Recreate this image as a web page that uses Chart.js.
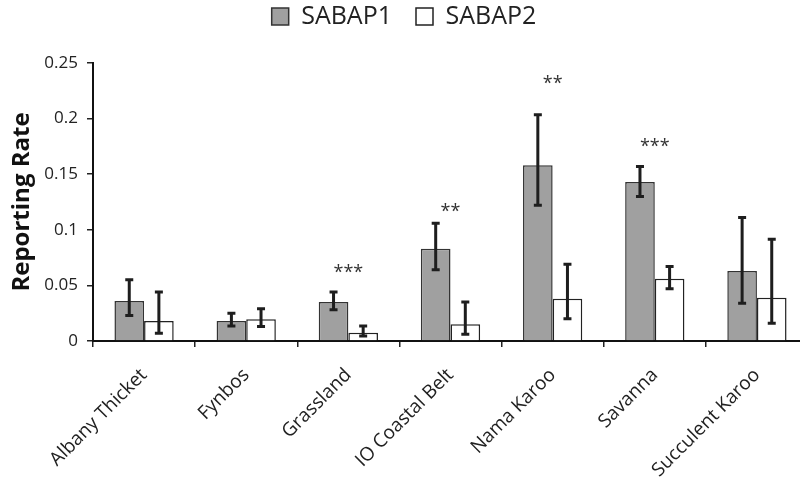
<!DOCTYPE html>
<html>
<head>
<meta charset="utf-8">
<script src="https://cdn.jsdelivr.net/npm/chart.js@4"></script>
<style>
  html, body { margin: 0; padding: 0; overflow: hidden; background: #fff; }
  #wrap { width: 808px; height: 482px; }
</style>
</head>
<body>
<div id="wrap"><canvas id="chart"></canvas></div>
<script>
const categories = ['Albany Thicket', 'Fynbos', 'Grassland', 'IO Coastal Belt', 'Nama Karoo', 'Savanna', 'Succulent Karoo'];

const sabap1 = [0.036, 0.018, 0.035, 0.083, 0.158, 0.143, 0.063];
const sabap1Lo = [0.023, 0.0135, 0.028, 0.064, 0.122, 0.130, 0.034];
const sabap1Hi = [0.055, 0.025, 0.044, 0.106, 0.2035, 0.157, 0.111];

const sabap2 = [0.018, 0.0195, 0.0075, 0.015, 0.038, 0.056, 0.039];
const sabap2Lo = [0.007, 0.013, 0.0045, 0.006, 0.020, 0.047, 0.016];
const sabap2Hi = [0.044, 0.029, 0.0135, 0.035, 0.069, 0.067, 0.0915];

// significance stars, and the level (in reporting rate units) they sit at
const sigLabels = ['', '', '***', '**', '**', '***', ''];
const sigLevel = [0, 0, 0.064, 0.119, 0.234, 0.177, 0];

const yTicks = [0, 0.05, 0.1, 0.15, 0.2, 0.25];

const FONT = "'Open Sans', sans-serif";

// legend: keep the wide item spacing but sit it near the top edge
const legendTweak = {
  id: 'legendTweak',
  beforeInit(chart) {
    const legend = chart.legend;
    const fit = legend.fit.bind(legend);
    legend.fit = function () {
      fit();
      this.height = 59;
    };
  },
  afterLayout(chart) {
    chart.legend.top = -20;
  }
};

// draw the error bars + stars on top of the bars
const errorBarPlugin = {
  id: 'errorBars',
  afterDatasetsDraw(chart) {
    const ctx = chart.ctx;
    const y = chart.scales.y;
    const ranges = [[sabap1Lo, sabap1Hi], [sabap2Lo, sabap2Hi]];
    ctx.save();
    ctx.strokeStyle = '#1e1e1e';
    ctx.lineWidth = 3;
    ranges.forEach((r, i) => {
      const meta = chart.getDatasetMeta(i);
      meta.data.forEach((bar, j) => {
        const top = y.getPixelForValue(r[1][j]);
        const bot = y.getPixelForValue(r[0][j]);
        ctx.beginPath();
        ctx.moveTo(bar.x, top);
        ctx.lineTo(bar.x, bot);
        ctx.moveTo(bar.x - 4, top);
        ctx.lineTo(bar.x + 4, top);
        ctx.moveTo(bar.x - 4, bot);
        ctx.lineTo(bar.x + 4, bot);
        ctx.stroke();
      });
    });
    ctx.fillStyle = '#333';
    ctx.font = '18px ' + FONT;
    ctx.textAlign = 'center';
    ctx.textBaseline = 'middle';
    const x = chart.scales.x;
    sigLabels.forEach((s, j) => {
      if (!s) return;
      ctx.fillText(s, x.getPixelForValue(j), y.getPixelForValue(sigLevel[j]) + 3);
    });
    ctx.restore();
  }
};

new Chart(document.getElementById('chart'), {
  type: 'bar',
  data: {
    labels: categories,
    datasets: [{
      label: 'SABAP1',
      data: sabap1,
      backgroundColor: '#a0a0a0',
      borderColor: '#333',
      borderWidth: 1.5,
      categoryPercentage: 0.58,
      barPercentage: 1
    }, {
      label: 'SABAP2',
      data: sabap2,
      backgroundColor: '#fff',
      borderColor: '#222',
      borderWidth: 1.5,
      categoryPercentage: 0.58,
      barPercentage: 1
    }]
  },
  options: {
    responsive: true,
    maintainAspectRatio: false,
    animation: false,
    layout: { padding: { left: 0, right: 0, top: 4, bottom: 0 } },
    plugins: {
      legend: {
        position: 'top',
        labels: {
          color: '#222',
          font: { family: FONT, size: 25 },
          boxWidth: 17,
          boxHeight: 17,
          padding: 24
        }
      },
      tooltip: { enabled: false }
    },
    scales: {
      x: {
        grid: { drawOnChartArea: false, color: '#222', tickLength: 6, lineWidth: 1.5 },
        border: { color: '#111', width: 2 },
        ticks: {
          color: '#222',
          font: { family: FONT, size: 19 },
          maxRotation: 45,
          minRotation: 45,
          padding: 17
        },
        afterFit(scale) { scale.height = 141; }
      },
      y: {
        min: 0,
        max: 0.25,
        afterBuildTicks(scale) { scale.ticks = yTicks.map(v => ({ value: v })); },
        grid: { drawOnChartArea: false, color: '#222', tickLength: 6, lineWidth: 1.5 },
        border: { color: '#111', width: 2 },
        ticks: {
          color: '#222',
          font: { family: FONT, size: 17 },
          padding: 9,
          callback: v => String(v)
        },
        title: {
          display: true,
          text: 'Reporting Rate',
          color: '#111',
          font: { family: FONT, size: 24, weight: 'bold' },
          padding: { top: 8, bottom: 0 }
        },
        afterFit(scale) { scale.width = 93; }
      }
    }
  },
  plugins: [legendTweak, errorBarPlugin]
});
</script>
</body>
</html>
